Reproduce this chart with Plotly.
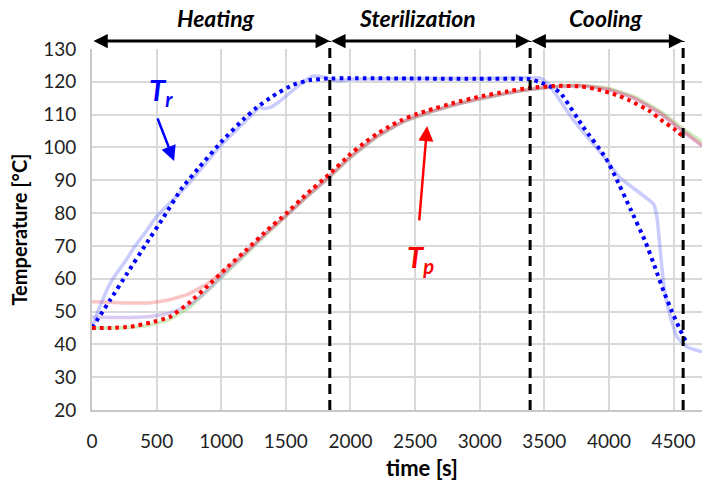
import plotly.graph_objects as go

# Retort temperature Tr: simulated (dotted) and measured (pale)
t_tr_model = [0, 140, 270, 425, 550, 692, 833, 1000, 1167, 1269, 1397, 1551, 1679, 1833,
              2000, 2500, 3000, 3390, 3470, 3550, 3623, 3800, 3974, 4051, 4167, 4282,
              4359, 4423, 4487, 4551, 4597]
tr_model = [45.0, 53.5, 61.5, 71.0, 78.5, 87.4, 94.1, 101.7, 108.4, 112.0, 115.6, 119.0,
            120.5, 121.0, 121.1, 121.0, 120.9, 120.8, 119.8, 118.5, 116.7, 106.3, 96.9,
            91.0, 81.2, 71.3, 63.2, 56.2, 50.0, 44.4, 40.8]

t_tr_meas = [0, 60, 150, 270, 320, 425, 500, 733, 940, 1000, 1100, 1250, 1295, 1330, 1380,
             1450, 1500, 1602, 1705, 1756, 1833, 1910, 2000, 2500, 3000, 3467, 3530, 3600,
             3726, 3854, 3982, 4085, 4346, 4372, 4397, 4423, 4462, 4526, 4602, 4720]
tr_meas = [45.0, 51.5, 59.3, 66.0, 69.2, 74.8, 79.0, 88.3, 98.0, 100.7, 104.6, 110.5, 112.2,
           111.9, 112.2, 114.0, 115.6, 119.0, 121.7, 121.7, 121.0, 120.3, 120.8, 121.0,
           121.0, 121.1, 119.5, 115.5, 108.3, 102.2, 96.1, 90.8, 82.7, 78.7, 68.6, 58.5,
           50.4, 42.3, 39.3, 37.7]

# Product temperature Tp: simulated (dotted) and three measured probes (pale)
t_tp_model = [0, 150, 300, 450, 600, 750, 900, 1050, 1200, 1350, 1500, 1660, 1840, 2000,
              2100, 2200, 2300, 2400, 2500, 2600, 2800, 3000, 3200, 3400, 3600, 3780, 3900,
              4060, 4160, 4320, 4420, 4500, 4574]
tp_model = [45.0, 45.0, 45.4, 46.6, 48.3, 52.6, 58.0, 63.6, 69.0, 74.6, 79.8, 85.8, 92.0,
            98.0, 101.2, 104.0, 106.4, 108.4, 110.0, 111.3, 113.6, 115.5, 117.0, 118.2,
            118.8, 118.6, 117.8, 116.0, 114.3, 111.0, 107.9, 105.8, 103.3]

t_tp_meas = [0, 150, 300, 450, 600, 750, 900, 1050, 1200, 1350, 1500, 1650, 1840, 2000,
             2200, 2400, 2600, 2800, 3000, 3200, 3400, 3600, 3800, 4000, 4200, 4400, 4574, 4720]
tp_meas_a = [53.0, 52.8, 52.6, 52.7, 53.6, 55.4, 58.7, 63.4, 68.5, 74.0, 79.2, 84.7, 91.3,
             97.2, 103.3, 107.8, 110.7, 113.0, 114.9, 116.5, 117.8, 118.6, 118.8, 117.7,
             115.0, 110.4, 105.0, 100.7]
tp_meas_b = [48.3, 48.2, 48.2, 48.5, 49.6, 51.9, 56.8, 62.6, 68.2, 73.9, 79.1, 84.6, 91.2,
             97.1, 103.2, 107.7, 110.6, 112.9, 114.8, 116.4, 117.7, 118.5, 118.7, 117.6,
             114.9, 110.2, 104.8, 100.5]
tp_meas_c = [45.0, 45.0, 45.2, 45.9, 47.6, 51.2, 56.6, 62.2, 67.8, 73.6, 79.0, 84.5, 91.0,
             96.9, 103.0, 107.6, 110.5, 112.9, 114.8, 116.4, 117.7, 118.6, 118.9, 118.0,
             115.4, 111.0, 105.7, 101.7]

# Process phases
phase_edges = [0, 1840, 3390, 4574]
phase_names = ["Heating", "Sterilization", "Cooling"]
phase_label_t = [960, 2520, 3980]

x_ticks = [0, 500, 1000, 1500, 2000, 2500, 3000, 3500, 4000, 4500]
y_ticks = [20, 30, 40, 50, 60, 70, 80, 90, 100, 110, 120, 130]

FONT = "Lato"
TICK_COLOR = "#1f1f1f"
fig = go.Figure()

pale = [
    (t_tp_meas, tp_meas_c, "rgba(120,200,80,0.35)"),
    (t_tp_meas, tp_meas_b, "rgba(150,110,215,0.35)"),
    (t_tp_meas, tp_meas_a, "rgba(240,90,90,0.35)"),
    (t_tr_meas, tr_meas, "rgba(100,110,245,0.35)"),
]
for tx, ty, col in pale:
    fig.add_trace(go.Scatter(x=tx, y=ty, mode="lines",
                             line=dict(color=col, width=3.5, shape="spline", smoothing=0.4),
                             hoverinfo="skip"))

dots = "3.6px,4.2px"
fig.add_trace(go.Scatter(x=t_tr_model, y=tr_model, mode="lines",
                         line=dict(color="#0000ff", width=4, dash=dots, shape="spline",
                                   smoothing=0.4)))
fig.add_trace(go.Scatter(x=t_tp_model, y=tp_model, mode="lines",
                         line=dict(color="#ff0000", width=4, dash=dots, shape="spline",
                                   smoothing=0.4)))

plot_h = 483 - 49 - 73
arrow_y = 1 + 8 / plot_h
label_y = 1 + 31 / plot_h

shapes = []
for b in phase_edges[1:]:
    shapes.append(dict(type="line", xref="x", yref="paper", x0=b, x1=b, y0=0, y1=arrow_y,
                       line=dict(color="black", width=3, dash="10px,6px")))

annotations = []
for i, name in enumerate(phase_names):
    annotations.append(dict(xref="x", yref="paper", axref="x", ayref="pixel",
                            x=phase_edges[i + 1], y=arrow_y, ax=phase_edges[i], ay=0,
                            text="", showarrow=True, arrowside="end+start",
                            arrowhead=2, startarrowhead=2, arrowsize=0.95,
                            startarrowsize=0.95, arrowwidth=3, arrowcolor="black"))
    annotations.append(dict(xref="x", yref="paper", x=phase_label_t[i], y=label_y,
                            text="<b><i>" + name + "</i></b>", showarrow=False,
                            xanchor="center", yanchor="middle",
                            font=dict(family=FONT, size=23, color="black")))

# Curve labels with pointer arrows
annotations.append(dict(xref="x", yref="y", x=530, y=117.0, showarrow=False,
                        text="<b><i>T<sub>r</sub></i></b>",
                        font=dict(family=FONT, size=29, color="#0000ff")))
annotations.append(dict(xref="x", yref="y", axref="x", ayref="y", x=635, y=95.9,
                        ax=503, ay=109.3, text="", showarrow=True, arrowhead=2,
                        arrowsize=1.2, arrowwidth=2.5, arrowcolor="#0000ff"))
annotations.append(dict(xref="x", yref="y", x=2540, y=66.3, showarrow=False,
                        text="<b><i>T<sub>p</sub></i></b>",
                        font=dict(family=FONT, size=29, color="#ff0000")))
annotations.append(dict(xref="x", yref="y", axref="x", ayref="y", x=2593, y=106.5,
                        ax=2531, ay=77.3, text="", showarrow=True, arrowhead=2,
                        arrowsize=1.2, arrowwidth=2.5, arrowcolor="#ff0000"))

# Axis titles
annotations.append(dict(xref="paper", yref="paper", x=(422 - 92) / 610, y=-57 / plot_h,
                        text="<b>time [s]</b>", showarrow=False, xanchor="center",
                        yanchor="middle", font=dict(family=FONT, size=22, color="black")))
annotations.append(dict(xref="paper", yref="paper", x=-74 / 610, y=0.5, textangle=-90,
                        text="<b>Temperature [°C]</b>", showarrow=False, xanchor="center",
                        yanchor="middle", font=dict(family=FONT, size=20, color="black")))

fig.update_layout(
    width=702, height=483,
    margin=dict(l=92, r=0, t=49, b=73),
    paper_bgcolor="white", plot_bgcolor="white",
    showlegend=False,
    shapes=shapes, annotations=annotations,
    font=dict(family=FONT, size=19, color=TICK_COLOR),
)
fig.update_xaxes(range=[0, 4720], tickvals=x_ticks, ticktext=[str(v) for v in x_ticks],
                 showgrid=True, gridcolor="#d9d9d9", gridwidth=2, zeroline=False,
                 showline=True, linecolor="#c8c8c8", linewidth=2, ticks="",
                 ticklabelstandoff=13, tickfont=dict(family=FONT, size=19, color=TICK_COLOR))
fig.update_yaxes(range=[20, 130], tickvals=y_ticks, ticktext=[str(v) for v in y_ticks],
                 showgrid=True, gridcolor="#d9d9d9", gridwidth=2, zeroline=False,
                 showline=True, linecolor="#c8c8c8", linewidth=2, ticks="",
                 ticklabelstandoff=10, tickfont=dict(family=FONT, size=19, color=TICK_COLOR))

fig.write_html("out.html")
